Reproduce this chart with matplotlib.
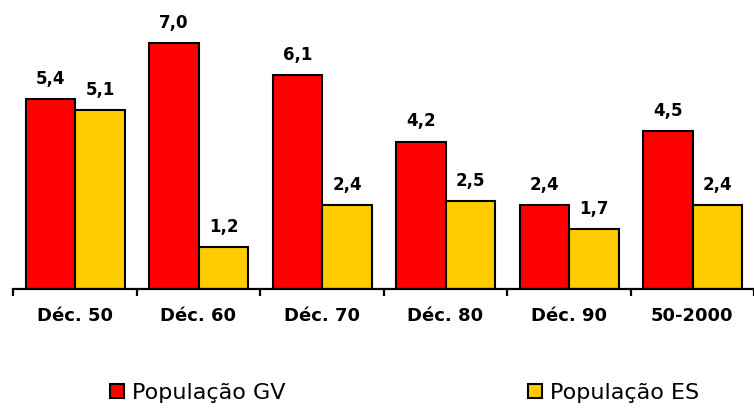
import matplotlib
matplotlib.use("Agg")
import matplotlib.pyplot as plt
import numpy as np

decadas = ["Déc. 50", "Déc. 60", "Déc. 70", "Déc. 80", "Déc. 90", "50-2000"]
pop_gv = [5.4, 7.0, 6.1, 4.2, 2.4, 4.5]
pop_es = [5.1, 1.2, 2.4, 2.5, 1.7, 2.4]

fig = plt.figure(figsize=(7.54, 4.08), dpi=100)
ax = fig.add_axes([13/754, 119/408, 741/754, 289/408])

x = np.arange(len(decadas))
w = 0.4
b1 = ax.bar(x - 0.196, pop_gv, w, color="#FF0000", edgecolor="black", linewidth=1.5, label="População GV")
b2 = ax.bar(x + 0.204, pop_es, w, color="#FFCC00", edgecolor="black", linewidth=1.5, label="População ES")

# rótulos com vírgula decimal
for barras, vals in [(b1, pop_gv), (b2, pop_es)]:
    for r, v in zip(barras, vals):
        ax.annotate(f"{v:.1f}".replace(".", ","), (r.get_x() + r.get_width()/2, v),
                    xytext=(0, 8), textcoords="offset points", ha="center", va="bottom",
                    fontsize=12, fontweight="bold")

ax.set_xlim(-0.5, -0.5 + 741/124.5)
ax.set_ylim(0, 289/35.1)
for s in ["top", "right", "left"]:
    ax.spines[s].set_visible(False)
ax.spines["bottom"].set_linewidth(1.6)
ax.set_yticks([])
ax.set_xticks(np.arange(-0.5, 6.0, 1.0))
ax.set_xticklabels([])
ax.tick_params(axis="x", which="major", direction="out", length=5, width=1.6)
ax.set_xticks(x, minor=True)
ax.set_xticklabels(decadas, minor=True, fontsize=13, fontweight="bold")
ax.tick_params(axis="x", which="minor", length=0, pad=13)

fig.legend(handles=[b1, b2], loc="center left", bbox_to_anchor=(110/754, 1 - 393/408),
           ncol=2, frameon=False, fontsize=16, handlelength=0.63, handleheight=0.63,
           handletextpad=0.36, columnspacing=10.9, borderpad=0, borderaxespad=0)

fig.savefig("out.png", dpi=100)
